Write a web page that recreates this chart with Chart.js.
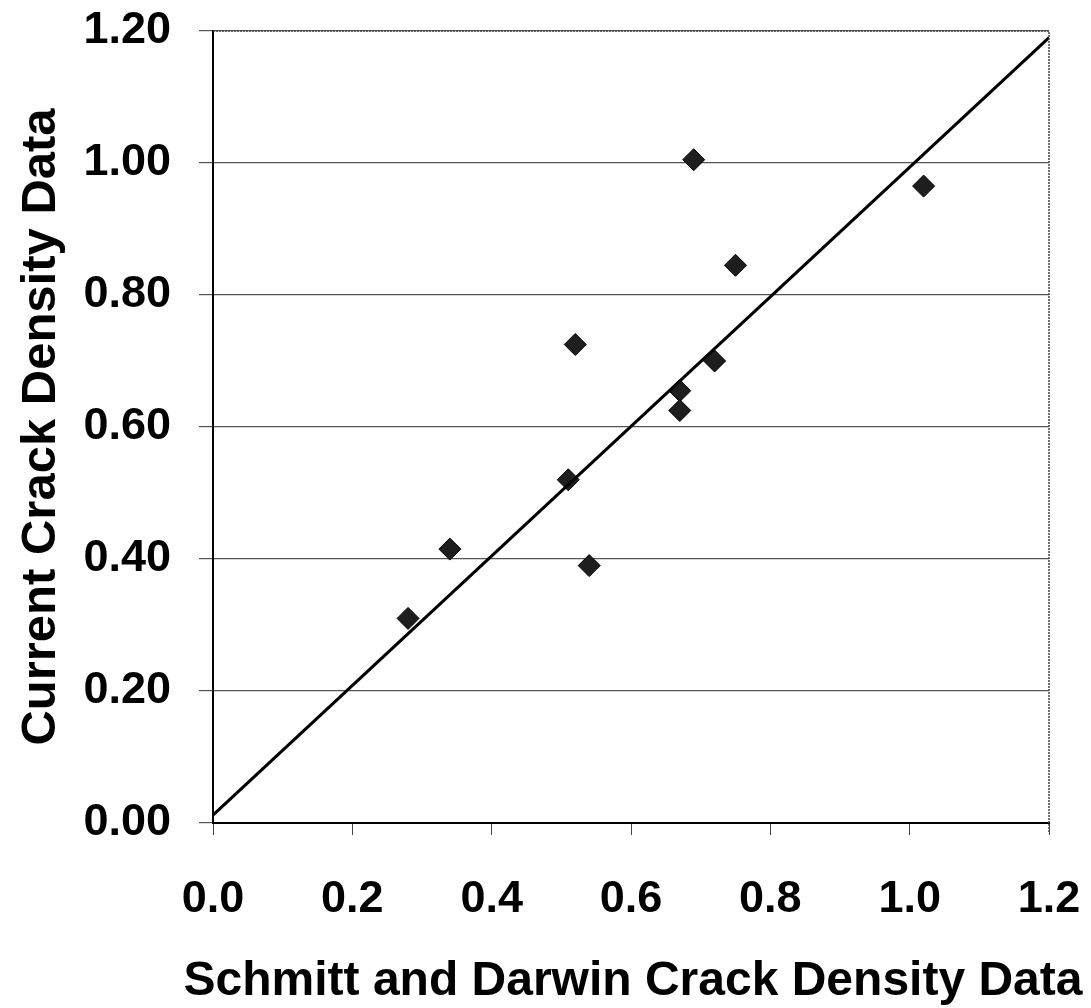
<!DOCTYPE html>
<html>
<head>
<meta charset="utf-8">
<script src="https://cdn.jsdelivr.net/npm/chart.js@4.4.1/dist/chart.umd.min.js"></script>
<style>
  html, body { margin: 0; padding: 0; background: #fff; }
  #wrap { width: 1091px; height: 1008px; }
</style>
</head>
<body>
<div id="wrap"><canvas id="myChart" width="1091" height="1008"></canvas></div>
<script>
// Schmitt & Darwin crack density (x) vs current crack density (y)
const schmittX = [0.28, 0.34, 0.51, 0.54, 0.52, 0.67, 0.67, 0.72, 0.69, 0.75, 1.02];
const currentY = [0.31, 0.415, 0.52, 0.39, 0.725, 0.655, 0.625, 0.70, 1.005, 0.845, 0.965];

// trend line end points
const fitX = [0, 1.2];
const fitY = [0.012, 1.19];

const xTicks = [0, 0.2, 0.4, 0.6, 0.8, 1.0, 1.2];
const yTicks = [0, 0.2, 0.4, 0.6, 0.8, 1.0, 1.2];

const xTitle = 'Schmitt and Darwin Crack Density Data';

const font = "'Liberation Sans', Arial, sans-serif";

// dotted frame on top/right, plus the x title (wider than the plot, so no maxWidth squeeze)
const frame = {
    id: 'frame',
    afterDraw(chart) {
        const { ctx, chartArea: a } = chart;
        ctx.save();
        ctx.strokeStyle = '#444';
        ctx.lineWidth = 1.5;
        ctx.setLineDash([2, 1]);
        ctx.beginPath();
        ctx.moveTo(a.left, a.top);
        ctx.lineTo(a.right, a.top);
        ctx.lineTo(a.right, a.bottom + 10);
        ctx.stroke();
        ctx.setLineDash([]);
        ctx.fillStyle = '#000';
        ctx.font = 'bold 48px ' + font;
        ctx.textAlign = 'center';
        ctx.textBaseline = 'alphabetic';
        ctx.fillText(xTitle, (a.left + a.right) / 2 + 2, 995);
        ctx.restore();
    }
};

const ctx = document.getElementById('myChart').getContext('2d');
new Chart(ctx, {
    type: 'scatter',
    data: {
        datasets: [
            {
                type: 'line',
                data: fitX.map((x, i) => ({ x: x, y: fitY[i] })),
                borderColor: '#000',
                borderWidth: 3,
                pointRadius: 0,
                fill: false
            },
            {
                data: schmittX.map((x, i) => ({ x: x, y: currentY[i] })),
                pointStyle: 'rectRot',
                pointRadius: 11,
                backgroundColor: '#1e1e1e',
                borderColor: '#000',
                borderWidth: 1
            }
        ]
    },
    options: {
        responsive: false,
        animation: false,
        layout: { padding: { top: 31, right: 42, left: 0, bottom: 0 } },
        plugins: { legend: { display: false }, tooltip: { enabled: false } },
        scales: {
            x: {
                type: 'linear',
                min: 0,
                max: 1.2,
                afterBuildTicks: s => { s.ticks = xTicks.map(v => ({ value: v })); },
                afterFit: s => { s.height = 185; s.paddingLeft = 0; s.paddingRight = 0; },
                grid: { display: true, drawOnChartArea: false, drawTicks: true, tickLength: 12, color: '#444', lineWidth: 1 },
                border: { display: true, color: '#000', width: 2 },
                ticks: {
                    color: '#000',
                    padding: 38,
                    font: { family: font, size: 45, weight: 'bold' },
                    callback: v => v.toFixed(1),
                    maxRotation: 0
                },
                title: { display: false }
            },
            y: {
                type: 'linear',
                min: 0,
                max: 1.2,
                afterBuildTicks: s => { s.ticks = yTicks.map(v => ({ value: v })); },
                afterFit: s => { s.width = 213; s.paddingTop = 0; s.paddingBottom = 0; },
                grid: { color: '#555', lineWidth: 1.2, drawTicks: true, tickLength: 14 },
                border: { display: true, color: '#000', width: 2 },
                ticks: {
                    color: '#000',
                    padding: 28,
                    font: { family: font, size: 45, weight: 'bold' },
                    callback: v => v.toFixed(2)
                },
                title: {
                    display: true,
                    text: 'Current Crack Density Data',
                    color: '#000',
                    font: { family: font, size: 49, weight: 'bold' },
                    padding: { top: 12, bottom: 0 }
                }
            }
        }
    },
    plugins: [frame]
});
</script>
</body>
</html>
